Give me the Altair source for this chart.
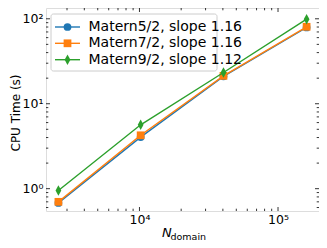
import altair as alt
import pandas as pd

# ---- data ----
names = ["Matern5/2", "Matern7/2", "Matern9/2"]
slopes = ["1.16", "1.16", "1.12"]
colors = ["#1f77b4", "#ff7f0e", "#2ca02c"]
n_domain = [2601, 10201, 40401, 160801]
cpu_m52 = [0.68, 4.05, 21.0, 79.0]
cpu_m72 = [0.70, 4.25, 21.3, 80.5]
cpu_m92 = [0.95, 5.65, 23.3, 99.0]
series = [cpu_m52, cpu_m72, cpu_m92]

x_major = [1e4, 1e5]
x_labels = ["10⁴", "10⁵"]
x_minor = [3000, 4000, 5000, 6000, 7000, 8000, 9000,
           20000, 30000, 40000, 50000, 60000, 70000, 80000, 90000]
y_major = [1, 10, 100]
y_labels = ["10⁰", "10¹", "10²"]
y_minor = [0.6, 0.7, 0.8, 0.9, 2, 3, 4, 5, 6, 7, 8, 9,
           20, 30, 40, 50, 60, 70, 80, 90]
x_domain = [2116, 197600]
y_domain = [0.546, 134]

# ---- layout ----
W, H = 273, 203
FONT = "DejaVu Sans"
shapes = ["circle", "square", "M0,-1L0.55,0L0,1L-0.55,0Z"]
sizes = [60, 60, 110]


def label_expr(vals, labels):
    expr = "''"
    for v, l in zip(reversed(vals), reversed(labels)):
        expr = f"abs(datum.value - {v}) < {v}*0.01 ? '{l}' : ({expr})"
    return expr


x_axis = alt.Axis(values=x_major, labelExpr=label_expr(x_major, x_labels),
                  ticks=False, domain=False, grid=False, labelFont=FONT,
                  labelFontSize=12.5, labelColor="black", labelPadding=2,
                  title=None)
y_axis = alt.Axis(values=y_major, labelExpr=label_expr(y_major, y_labels),
                  ticks=False, domain=False, grid=False, labelFont=FONT,
                  labelFontSize=12.5, labelColor="black", labelPadding=3,
                  title="CPU Time (s)", titleFont=FONT, titleFontSize=12,
                  titleFontWeight="normal", titleColor="black",
                  titleX=-31, titleY=H / 2 + 3, titleAngle=270,
                  titleAlign="center", titleBaseline="middle")

xenc = alt.X("N:Q", scale=alt.Scale(type="log", domain=x_domain, nice=False), axis=x_axis)
yenc = alt.Y("T:Q", scale=alt.Scale(type="log", domain=y_domain, nice=False), axis=y_axis)

layers = []
for i in range(3):
    df = pd.DataFrame({"N": n_domain, "T": series[i]})
    base = alt.Chart(df)
    layers.append(base.mark_line(color=colors[i], strokeWidth=1.4).encode(x=xenc, y=yenc))
    layers.append(base.mark_point(filled=True, opacity=1, color=colors[i],
                                  shape=shapes[i], size=sizes[i]).encode(x=xenc, y=yenc))

MAJ, MIN = 4, 2.3


def xticks(vals, y0, y1):
    return alt.Chart(pd.DataFrame({"N": vals})).mark_rule(
        color="black", strokeWidth=0.8).encode(x=xenc, y=alt.value(y0), y2=alt.value(y1))


def yticks(vals, x0, x1):
    return alt.Chart(pd.DataFrame({"T": vals})).mark_rule(
        color="black", strokeWidth=0.8).encode(y=yenc, x=alt.value(x0), x2=alt.value(x1))


layers += [
    xticks(x_major, H, H - MAJ), xticks(x_minor, H, H - MIN),
    xticks(x_major, 0, MAJ), xticks(x_minor, 0, MIN),
    yticks(y_major, 0, MAJ), yticks(y_minor, 0, MIN),
    yticks(y_major, W, W - MAJ), yticks(y_minor, W, W - MIN),
]

# ---- legend ----
one = pd.DataFrame({"k": [0]})
layers.append(alt.Chart(one).mark_rect(
    fill="white", fillOpacity=0.8, stroke="#cccccc", strokeWidth=1, cornerRadius=2.5
).encode(x=alt.value(5), x2=alt.value(171), y=alt.value(6), y2=alt.value(63)))

row_y = [19, 35.3, 51.7]
for i in range(3):
    d = pd.DataFrame({"label": [f"{names[i]}, slope {slopes[i]}"]})
    c = alt.Chart(d)
    layers.append(c.mark_rule(color=colors[i], strokeWidth=1.4).encode(
        x=alt.value(9), x2=alt.value(34), y=alt.value(row_y[i])))
    layers.append(c.mark_point(filled=True, opacity=1, color=colors[i],
                               shape=shapes[i], size=sizes[i]).encode(
        x=alt.value(21.5), y=alt.value(row_y[i])))
    layers.append(c.mark_text(align="left", baseline="middle", font=FONT,
                              fontSize=14, color="black").encode(
        text="label:N", x=alt.value(42.5), y=alt.value(row_y[i])))

# ---- x title: N_domain ----
layers.append(alt.Chart(pd.DataFrame({"t": ["N"]})).mark_text(
    align="left", baseline="alphabetic", font=FONT, fontSize=13,
    fontStyle="italic", color="black").encode(
    text="t:N", x=alt.value(116), y=alt.value(228.5)))
layers.append(alt.Chart(pd.DataFrame({"t": ["domain"]})).mark_text(
    align="left", baseline="alphabetic", font=FONT, fontSize=9.5,
    color="black").encode(
    text="t:N", x=alt.value(124.5), y=alt.value(231.5)))

chart = alt.layer(*layers).properties(
    width=W, height=H,
    autosize=alt.AutoSizeParams(type="none"),
    padding={"left": 38, "top": 0, "right": 0, "bottom": 29},
).configure_view(stroke="black", strokeWidth=1).configure(background="white")

chart.save("out.html", embed_options={"renderer": "svg", "actions": False})
